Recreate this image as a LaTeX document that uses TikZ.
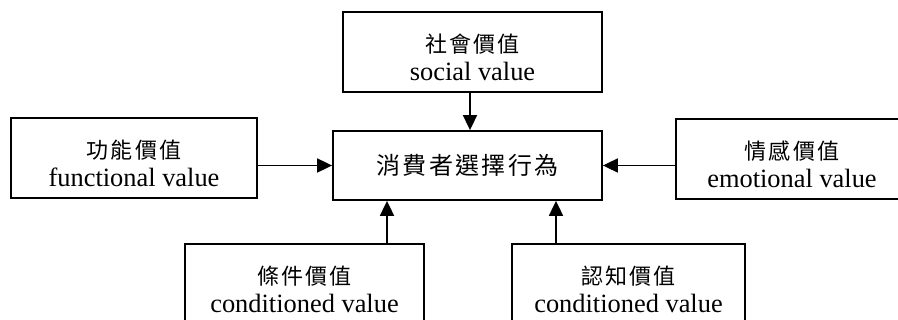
\documentclass[tikz,border=0pt]{standalone}
\usepackage{fontspec}
\setmainfont{Liberation Serif}
\newfontfamily\cjk[LetterSpace=10]{Noto Sans CJK TC}
\usetikzlibrary{arrows.meta,calc}
\begin{document}
\begin{tikzpicture}[x=1pt,y=-1pt,
  box/.style={draw,line width=1.8pt,inner sep=0pt,minimum height=80pt},
  txt/.style={align=center,inner sep=0pt,font=\fontsize{26.4}{27.5}\selectfont},
  arr/.style={line width=1.8pt,-{Triangle[length=15pt,width=14pt]}}]
\useasboundingbox (0,0) rectangle (898,320);
\clip (0,0) rectangle (898,320);
% boxes
\node[box,minimum width=259pt] (social) at (472.5,52) {};
\node[box,minimum width=246pt] (func) at (134,158) {};
\node[box,minimum width=232pt] (emo) at (792,159) {};
\node[box,minimum width=269pt,minimum height=69pt,font=\cjk\fontsize{24}{27}\selectfont] (center) at (467.5,165.5) {消費者選擇行為};
\node[box,minimum width=239pt] (cond) at (304.5,284) {};
\node[box,minimum width=233pt] (cogn) at (628.5,284) {};
% texts
\node[txt] (social-t) at ([yshift=-5.5pt]social.center) {{\cjk\fontsize{22}{27.5}\selectfont 社會價值}\\social value};
\node[txt] (func-t) at ([yshift=-5.5pt]func.center) {{\cjk\fontsize{22}{27.5}\selectfont 功能價值}\\functional value};
\node[txt] (emo-t) at ([yshift=-5.5pt]emo.center) {{\cjk\fontsize{22}{27.5}\selectfont 情感價值}\\emotional value};
\node[txt] (cond-t) at ([yshift=-5.5pt]cond.center) {{\cjk\fontsize{22}{27.5}\selectfont 條件價值}\\conditioned value};
\node[txt] (cogn-t) at ([yshift=-5.5pt]cogn.center) {{\cjk\fontsize{22}{27.5}\selectfont 認知價值}\\conditioned value};
% connector ends
\coordinate (ct) at ([xshift=2.5pt]center.north);
\coordinate (cbl) at ([xshift=-80.5pt]center.south);
\coordinate (cbr) at ([xshift=88.5pt]center.south);
% connectors
\draw[arr] (social.south -| ct) -- (ct);
\draw[arr] (func.east |- center.west) -- (center.west);
\draw[arr] (emo.west |- center.east) -- (center.east);
\draw[arr] (cond.north -| cbl) -- (cbl);
\draw[arr] (cogn.north -| cbr) -- (cbr);
\end{tikzpicture}
\end{document}
